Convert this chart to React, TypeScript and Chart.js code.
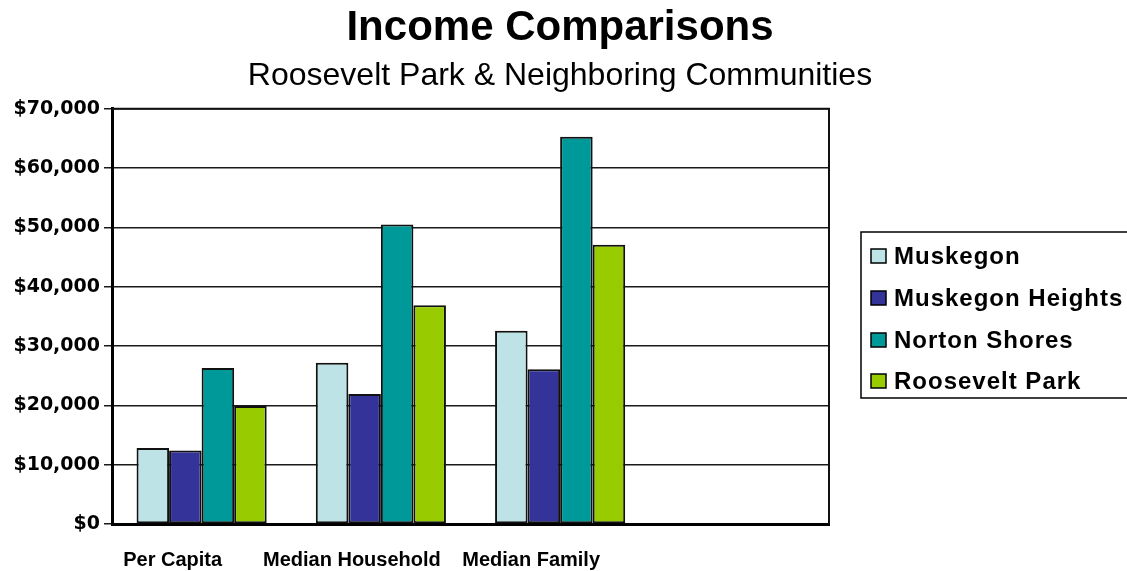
import React, { useEffect, useRef } from "react";
import { Chart, registerables } from "chart.js";

Chart.register(...registerables);

const categories = ["Per Capita", "Median Household", "Median Family", ""];
const seriesNames = ["Muskegon", "Muskegon Heights", "Norton Shores", "Roosevelt Park"];
const muskegon = [12800, 27200, 32600, null];
const muskegonHeights = [12400, 21900, 26100, null];
const nortonShores = [26300, 50500, 65300, null];
const rooseveltPark = [19900, 36900, 47100, null];
const colors = ["#BDE3E6", "#333399", "#009999", "#99CC00"];
const yTicks = [0, 10000, 20000, 30000, 40000, 50000, 60000, 70000];

const frameAndLegend = {
  id: "frameAndLegend",
  afterDatasetsDraw(chart: any) {
    const { ctx, chartArea } = chart;
    ctx.save();
    ctx.strokeStyle = "#111";
    ctx.lineWidth = 2;
    ctx.beginPath();
    ctx.moveTo(chartArea.left, chartArea.top);
    ctx.lineTo(chartArea.right, chartArea.top);
    ctx.lineTo(chartArea.right, chartArea.bottom);
    ctx.stroke();
    ctx.restore();
  },
  afterDraw(chart: any) {
    const { ctx } = chart;
    ctx.save();
    const bx = 861, by = 232, bw = 280, bh = 166;
    ctx.strokeStyle = "#000";
    ctx.lineWidth = 1.5;
    ctx.strokeRect(bx, by, bw, bh);
    const rows = [256, 298, 340, 381];
    ctx.font = "bold 24px 'Liberation Sans', Arial, sans-serif";
    try { (ctx as any).letterSpacing = "1px"; } catch (e) {}
    ctx.textBaseline = "middle";
    ctx.textAlign = "left";
    chart.data.datasets.forEach((ds: any, i: number) => {
      const y = rows[i];
      ctx.fillStyle = ds.backgroundColor;
      ctx.fillRect(871, y - 7, 15, 14);
      ctx.strokeStyle = "#000";
      ctx.lineWidth = 1.5;
      ctx.strokeRect(871, y - 7, 15, 14);
      ctx.fillStyle = "#000";
      ctx.fillText(ds.label, 894, y + 1);
    });
    ctx.restore();
  },
};

export default function App() {
  const ref = useRef<HTMLCanvasElement | null>(null);
  useEffect(() => {
    if (!ref.current) return;
    const data = [muskegon, muskegonHeights, nortonShores, rooseveltPark];
    const chart = new Chart(ref.current, {
      type: "bar",
      data: {
        labels: categories,
        datasets: seriesNames.map((name, i) => ({
          label: name,
          data: data[i] as any,
          backgroundColor: colors[i],
          borderColor: "#111",
          borderWidth: 2,
          borderSkipped: false,
          categoryPercentage: 0.726,
          barPercentage: 1,
          yAxisID: "y",
        })),
      },
      options: {
        animation: false,
        responsive: false,
        layout: { padding: { left: 0, right: 7, top: 0, bottom: 0 } },
        plugins: {
          legend: { display: false },
          tooltip: { enabled: false },
          title: {
            display: true,
            text: "Income Comparisons",
            color: "#000",
            font: { family: "'Liberation Sans', Arial, sans-serif", size: 42, weight: "bold" },
            padding: { top: 3, bottom: 0 },
          },
          subtitle: {
            display: true,
            text: "Roosevelt Park & Neighboring Communities",
            color: "#000",
            font: { family: "'Liberation Sans', Arial, sans-serif", size: 32, weight: "normal" },
            padding: { top: 4, bottom: 13 },
          },
        },
        scales: {
          x: {
            grid: { display: false, drawTicks: false },
            border: { display: true, color: "#000", width: 3 },
            afterFit: (axis: any) => {
              axis.height = 47;
            },
            ticks: {
              color: "#000",
              font: { family: "'Liberation Sans', Arial, sans-serif", size: 20, weight: "bold" },
              padding: 24,
              labelOffset: -29,
              maxRotation: 0,
              autoSkip: false,
            },
          },
          y: {
            min: 0,
            max: 70000,
            afterBuildTicks: (axis: any) => {
              axis.ticks = yTicks.map((v) => ({ value: v }));
            },
            afterFit: (axis: any) => {
              axis.width = 112;
            },
            grid: { color: "#1a1a1a", lineWidth: 1.5, tickLength: 8, drawTicks: true },
            border: { display: true, color: "#000", width: 3 },
            ticks: {
              color: "#000",
              padding: 4,
              font: { family: "'DejaVu Sans', sans-serif", size: 19, weight: "bold" },
              callback: (v: any) => "$" + Number(v).toLocaleString("en-US"),
            },
          },
          legendSpace: {
            type: "linear",
            axis: "y",
            position: "right",
            display: true,
            grid: { display: false, drawTicks: false },
            border: { display: false },
            ticks: { display: false },
            afterFit: (axis: any) => {
              axis.width = 291;
            },
          },
        },
      },
      plugins: [frameAndLegend],
    });
    return () => chart.destroy();
  }, []);
  return (
    <div style={{ position: "absolute", left: 0, top: 0, width: 1127, height: 571, background: "#fff" }}>
      <canvas ref={ref} width={1127} height={571} style={{ display: "block" }} />
    </div>
  );
}
